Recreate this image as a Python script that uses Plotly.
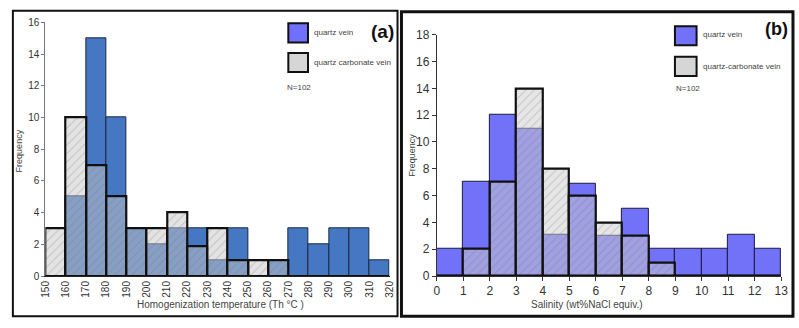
import plotly.graph_objects as go

# ---------------- data ----------------
# Panel (a): homogenization temperature, 10 °C bins
temp_bin_left = [150, 160, 170, 180, 190, 200, 210, 220, 230, 240, 250, 260, 270, 280, 290, 300, 310]
temp_quartz = [0, 5, 15, 10, 3, 2, 3, 3, 1, 3, 0, 1, 3, 2, 3, 3, 1]
temp_qcarb = [3, 10, 7, 5, 3, 3, 4, 1.85, 3, 1, 1, 1, 0, 0, 0, 0, 0]
temp_ticks = list(range(150, 321, 10))

# Panel (b): salinity, 1 wt% bins
sal_bin_left = [0, 1, 2, 3, 4, 5, 6, 7, 8, 9, 10, 11, 12]
sal_quartz = [2, 7, 12, 11, 3.1, 6.9, 3, 5.05, 2, 2, 2, 3.1, 2]
sal_qcarb = [0, 2, 7, 14, 8, 6, 4, 3, 1, 0, 0, 0, 0]
sal_ticks = list(range(0, 14))

W, H = 799, 328
def px(x):
    return x / W
def py(y):
    return 1 - y / H

fig = go.Figure()

# left panel bars
fig.add_trace(go.Bar(
    x=[b + 5 for b in temp_bin_left], y=temp_quartz, width=10,
    marker=dict(color="#4677c2", line=dict(color="#1b2740", width=1)),
    name="quartz vein", xaxis="x", yaxis="y", showlegend=False))
fig.add_trace(go.Bar(
    x=[b + 5 for b in temp_bin_left], y=temp_qcarb, width=10,
    marker=dict(color="rgba(200,200,200,0.5)", line=dict(color="#111111", width=2.2),
                pattern=dict(shape="/", fillmode="overlay", fgcolor="rgba(110,110,110,0.55)",
                             size=6, solidity=0.18)),
    name="quartz carbonate vein", xaxis="x", yaxis="y", showlegend=False))

# right panel bars
fig.add_trace(go.Bar(
    x=[b + 0.5 for b in sal_bin_left], y=sal_quartz, width=1,
    marker=dict(color="#7272f8", line=dict(color="#1a1a40", width=1)),
    name="quartz vein", xaxis="x2", yaxis="y2", showlegend=False))
fig.add_trace(go.Bar(
    x=[b + 0.5 for b in sal_bin_left], y=sal_qcarb, width=1,
    marker=dict(color="rgba(205,205,205,0.5)", line=dict(color="#111111", width=2.2),
                pattern=dict(shape="/", fillmode="overlay", fgcolor="rgba(110,110,110,0.55)",
                             size=6, solidity=0.18)),
    name="quartz-carbonate vein", xaxis="x2", yaxis="y2", showlegend=False))

font_tick = dict(family="Liberation Sans, Arial", size=10, color="#333333")

fig.update_layout(
    width=W, height=H, margin=dict(l=0, r=0, t=0, b=0),
    paper_bgcolor="white", plot_bgcolor="white",
    barmode="overlay", bargap=0,
    xaxis=dict(domain=[px(40), px(390)], range=[150, 320], tickvals=temp_ticks,
               tickangle=-90, tickfont=font_tick, showgrid=False, zeroline=False,
               showline=True, linecolor="#222222", linewidth=1, ticks="", anchor="y",
               ticklabeloverflow="allow"),
    yaxis=dict(domain=[py(281), py(16)], range=[0, 16], dtick=2, tickfont=font_tick,
               showgrid=False, zeroline=False, showline=True, linecolor="#777777",
               linewidth=1, ticks="outside", ticklen=3, tickcolor="#777777", anchor="x"),
    xaxis2=dict(domain=[px(438), px(788)], range=[0, 13], tickvals=sal_ticks,
                tickfont=dict(family="Liberation Sans, Arial", size=12, color="#333333"),
                showgrid=False, zeroline=False, showline=True, linecolor="#333333",
                linewidth=1, ticks="outside", ticklen=4, tickcolor="#333333", anchor="y2",
                ticklabeloverflow="allow"),
    yaxis2=dict(domain=[py(281), py(29)], range=[0, 18], dtick=2,
                tickfont=dict(family="Liberation Sans, Arial", size=12, color="#333333"),
                showgrid=False, zeroline=False, showline=True, linecolor="#333333",
                linewidth=1, ticks="outside", ticklen=4, tickcolor="#333333", anchor="x2"),
    font=dict(family="Liberation Sans, Arial", color="#333333"),
)

shapes = [
    dict(type="rect", xref="paper", yref="paper", x0=px(7), x1=px(398), y0=py(323), y1=py(4),
         line=dict(color="#111111", width=2)),
    dict(type="rect", xref="paper", yref="paper", x0=px(402), x1=px(800), y0=py(323), y1=py(5),
         line=dict(color="#111111", width=3)),
    # legend swatches (a)
    dict(type="rect", xref="paper", yref="paper", x0=px(287), x1=px(307), y0=py(37), y1=py(17),
         fillcolor="#7070ff", line=dict(color="#111111", width=2)),
    dict(type="rect", xref="paper", yref="paper", x0=px(287), x1=px(307), y0=py(68), y1=py(48),
         fillcolor="#d6d6d6", line=dict(color="#111111", width=2)),
    # legend swatches (b)
    dict(type="rect", xref="paper", yref="paper", x0=px(680), x1=px(702), y0=py(40), y1=py(20),
         fillcolor="#7272f8", line=dict(color="#111111", width=2)),
    dict(type="rect", xref="paper", yref="paper", x0=px(680), x1=px(702), y0=py(72), y1=py(52),
         fillcolor="#d6d6d6", line=dict(color="#111111", width=2)),
]
fig.update_layout(shapes=shapes)

ann_font = dict(family="Liberation Sans, Arial", size=8, color="#444444")
anns = [
    dict(text="quartz vein", x=px(311), y=py(27)),
    dict(text="quartz carbonate vein", x=px(311), y=py(58)),
    dict(text="N=102", x=px(284), y=py(84)),
    dict(text="quartz vein", x=px(706), y=py(29)),
    dict(text="quartz-carbonate vein", x=px(706), y=py(62)),
    dict(text="N=102", x=px(679), y=py(85)),
]
annotations = []
for a in anns:
    annotations.append(dict(xref="paper", yref="paper", xanchor="left", yanchor="middle",
                            showarrow=False, font=ann_font, **a))
annotations += [
    dict(text="<b>(a)</b>", x=px(396), y=py(26), xref="paper", yref="paper", xanchor="right",
         yanchor="middle", showarrow=False,
         font=dict(family="Liberation Sans, Arial", size=19, color="#111111")),
    dict(text="<b>(b)</b>", x=px(797), y=py(23), xref="paper", yref="paper", xanchor="right",
         yanchor="middle", showarrow=False,
         font=dict(family="Liberation Sans, Arial", size=18, color="#111111")),
    dict(text="Homogenization temperature (Th °C )", x=px(218), y=py(311), xref="paper",
         yref="paper", xanchor="center", yanchor="middle", showarrow=False,
         font=dict(family="Liberation Sans, Arial", size=10, color="#444444")),
    dict(text="Salinity (wt%NaCl equiv.)", x=px(591), y=py(311), xref="paper",
         yref="paper", xanchor="center", yanchor="middle", showarrow=False,
         font=dict(family="Liberation Sans, Arial", size=10, color="#444444")),
    dict(text="Frequency", x=px(13), y=py(150), xref="paper", yref="paper", textangle=-90,
         xanchor="center", yanchor="middle", showarrow=False,
         font=dict(family="Liberation Sans, Arial", size=9, color="#444444")),
    dict(text="Frequency", x=px(413), y=py(155), xref="paper", yref="paper", textangle=-90,
         xanchor="center", yanchor="middle", showarrow=False,
         font=dict(family="Liberation Sans, Arial", size=9, color="#444444")),
]
fig.update_layout(annotations=annotations)

fig.write_html("out.html", config={"displayModeBar": False},
               post_script="document.body.style.margin='0';document.body.style.overflow='hidden';")
